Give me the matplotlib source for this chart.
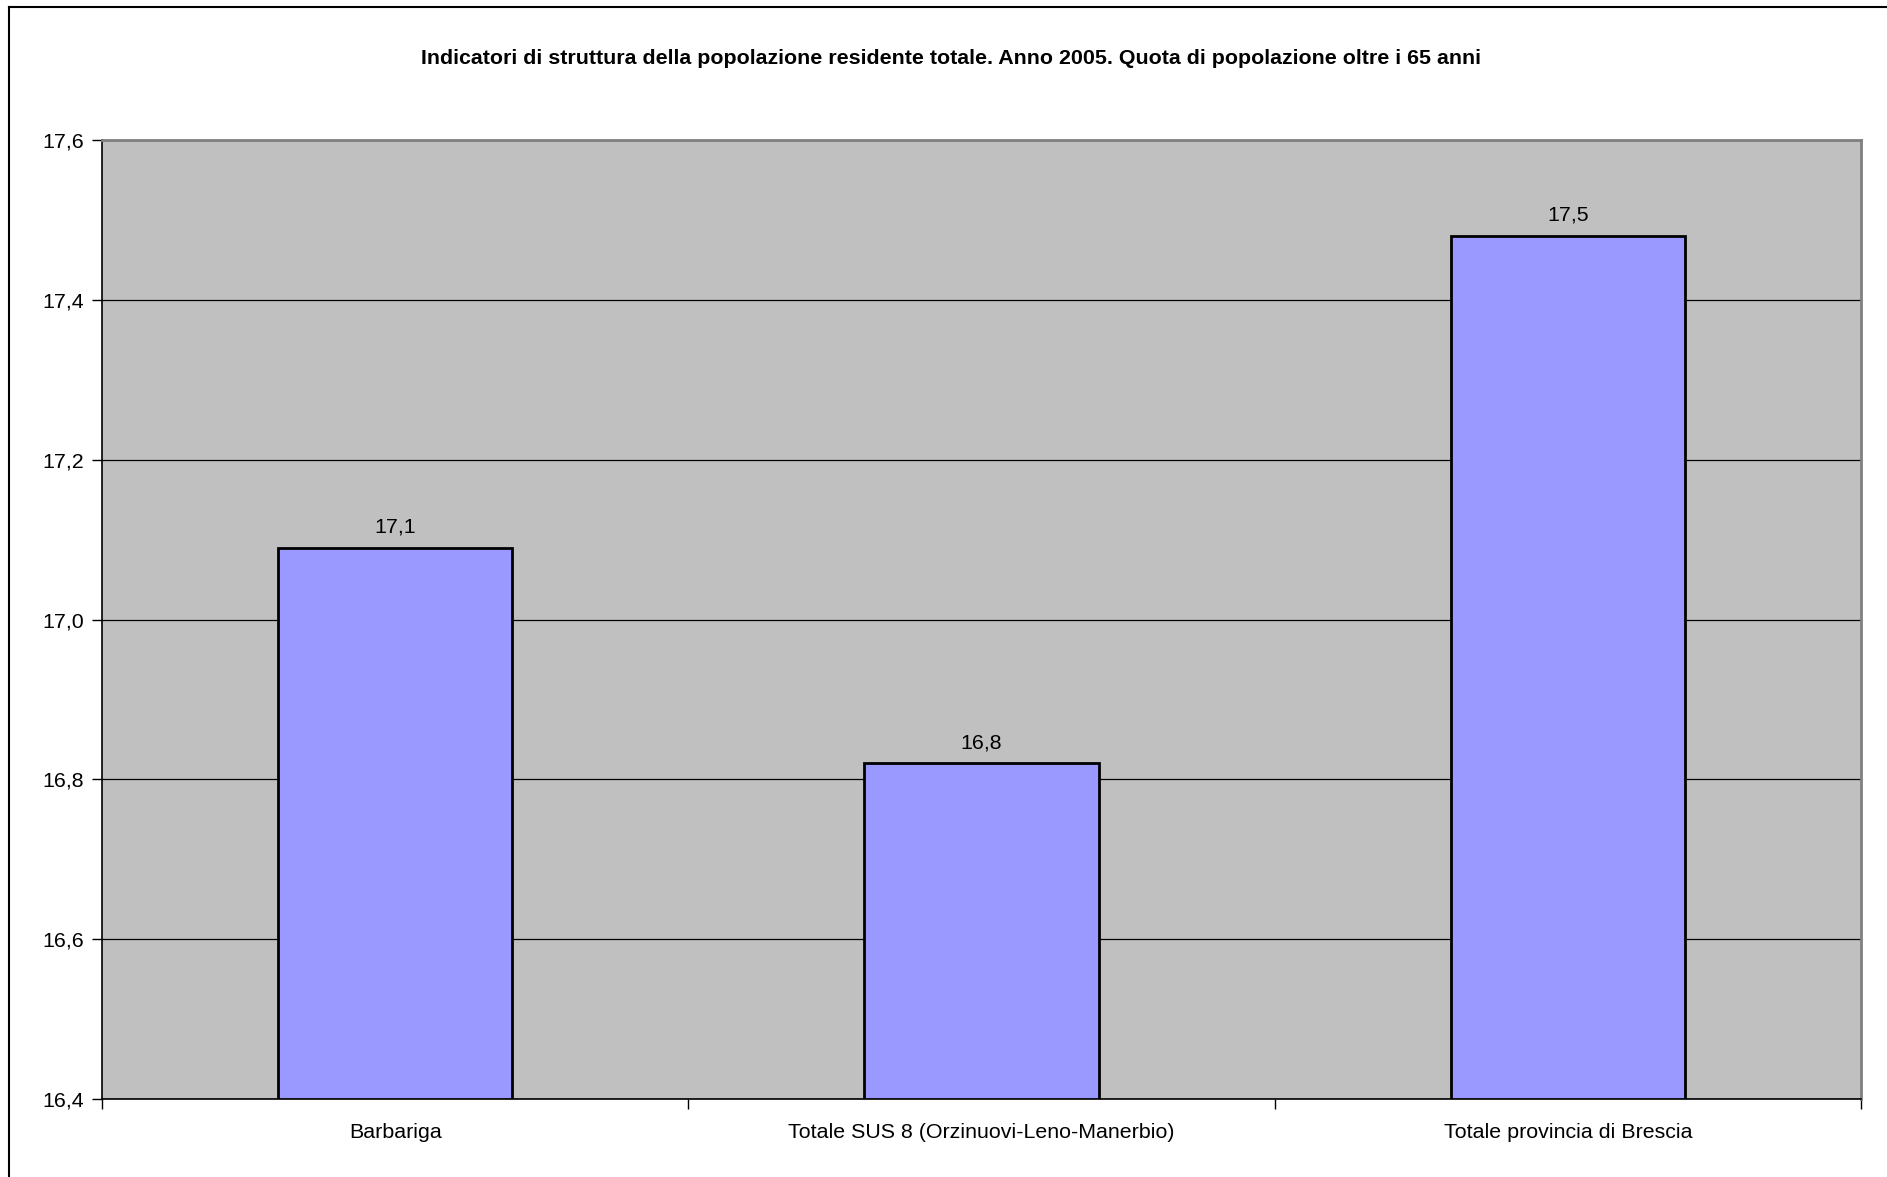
import matplotlib
matplotlib.use("Agg")
import matplotlib.pyplot as plt
from matplotlib.lines import Line2D

categories = ["Barbariga", "Totale SUS 8 (Orzinuovi-Leno-Manerbio)", "Totale provincia di Brescia"]
values = [17.09, 16.82, 17.48]
yticks = [16.4, 16.6, 16.8, 17.0, 17.2, 17.4, 17.6]
title = "Indicatori di struttura della popolazione residente totale. Anno 2005. Quota di popolazione oltre i 65 anni"

plt.rcParams['font.family'] = ['Liberation Sans', 'DejaVu Sans']
FS = 15.4

W, H = 1887, 1177
fig = plt.figure(figsize=(W / 100, H / 100), dpi=100)
fig.patch.set_facecolor('white')

left, right, top, bottom = 102, 1861, 140, 1099
ax = fig.add_axes([left / W, 1 - bottom / H, (right - left) / W, (bottom - top) / H])
ax.set_facecolor('#C0C0C0')

x = list(range(len(categories)))
ax.bar(x, [v - 16.4 for v in values], bottom=16.4, width=0.4, color='#9999FF',
       edgecolor='black', linewidth=2, zorder=3)
for xi, v in zip(x, values):
    ax.annotate(f"{v:.1f}".replace('.', ','), (xi, v), xytext=(0, 8), textcoords='offset points',
                ha='center', va='bottom', fontsize=FS, color='black', zorder=4)

ax.set_xlim(-0.5, len(categories) - 0.5)
ax.set_ylim(16.4, 17.6)
ax.set_yticks(yticks)
ax.set_yticklabels([f"{t:.1f}".replace('.', ',') for t in yticks], fontsize=FS)
ax.yaxis.grid(True, color='black', linewidth=0.9, zorder=1)
ax.set_axisbelow(True)

ax.set_xticks(x)
ax.set_xticklabels(categories, fontsize=FS)
ax.tick_params(axis='x', length=0, pad=17)
ax.set_xticks([i + 0.5 for i in range(-1, len(categories))], minor=True)
ax.tick_params(axis='x', which='minor', length=7, width=1, direction='out')
ax.tick_params(axis='y', length=7, width=1, direction='out', pad=6)

for s in ['left', 'bottom']:
    ax.spines[s].set_color('black')
    ax.spines[s].set_linewidth(1.2)
for s in ['top', 'right']:
    ax.spines[s].set_color('#808080')
    ax.spines[s].set_linewidth(2)

fig.text(951 / W, 1 - 58 / H, title, ha='center', va='center', fontsize=FS, fontweight='bold')

# outer frame: only top and left edges visible
fig.add_artist(Line2D([9 / W, 1.0], [1 - 7 / H, 1 - 7 / H], transform=fig.transFigure,
                      color='black', linewidth=1.5))
fig.add_artist(Line2D([9 / W, 9 / W], [0, 1 - 7 / H], transform=fig.transFigure,
                      color='black', linewidth=1.5))

fig.savefig("out.png", dpi=100)
